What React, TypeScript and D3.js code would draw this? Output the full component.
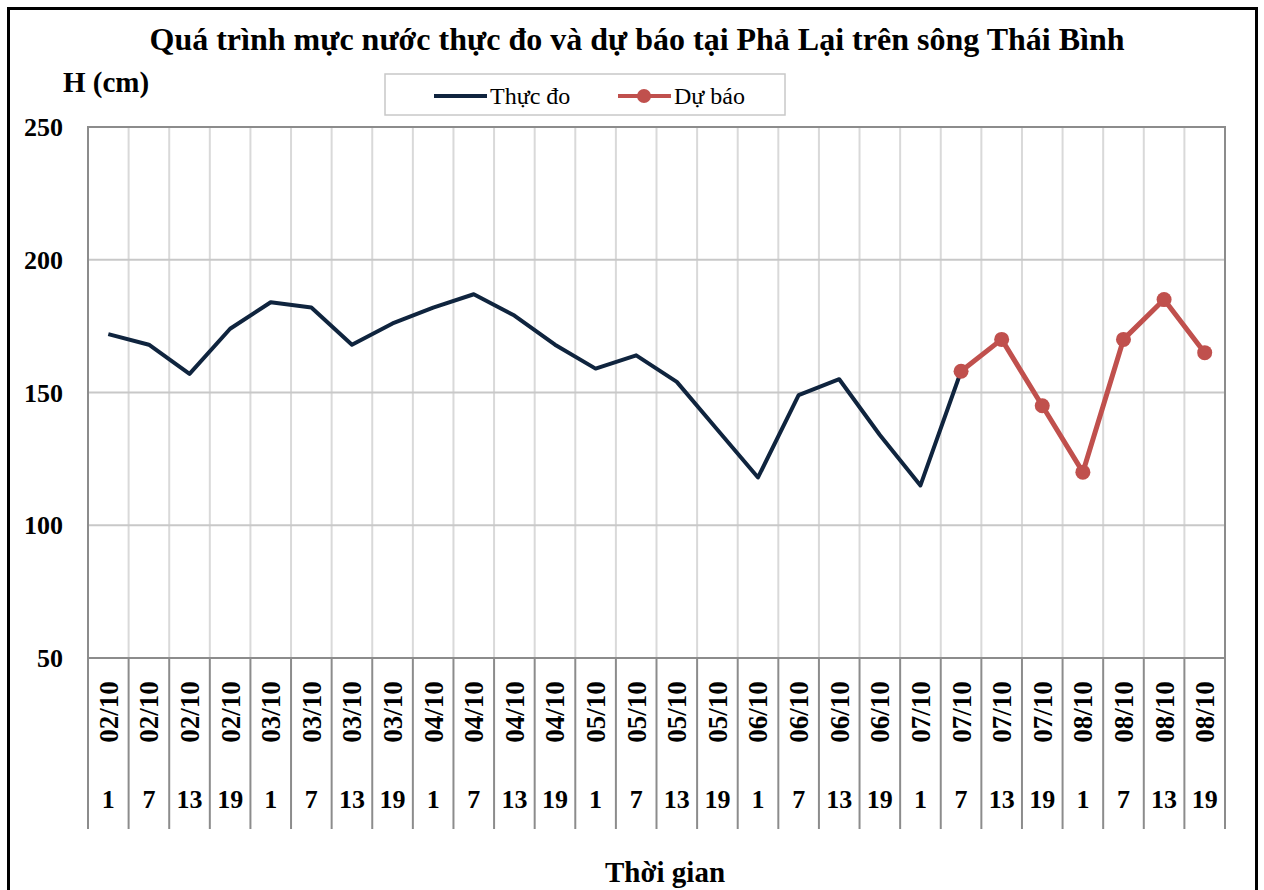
import * as d3 from "d3";

const dates = [
  "02/10", "02/10", "02/10", "02/10",
  "03/10", "03/10", "03/10", "03/10",
  "04/10", "04/10", "04/10", "04/10",
  "05/10", "05/10", "05/10", "05/10",
  "06/10", "06/10", "06/10", "06/10",
  "07/10", "07/10", "07/10", "07/10",
  "08/10", "08/10", "08/10", "08/10",
];
const hours = [
  "1", "7", "13", "19", "1", "7", "13", "19", "1", "7", "13", "19", "1", "7",
  "13", "19", "1", "7", "13", "19", "1", "7", "13", "19", "1", "7", "13", "19",
];
// Thực đo (observed), null where no data
const observed: (number | null)[] = [
  172, 168, 157, 174, 184, 182, 168, 176, 182, 187, 179, 168, 159, 164,
  154, 136, 118, 149, 155, 134, 115, 158, null, null, null, null, null, null,
];
// Dự báo (forecast)
const forecast: (number | null)[] = [
  null, null, null, null, null, null, null, null, null, null, null, null, null, null,
  null, null, null, null, null, null, null, 158, 170, 145, 120, 170, 185, 165,
];
const yTicks = [50, 100, 150, 200, 250];

const W = 1264;
const H = 890;
const left = 88;
const right = 1225;
const top = 127;
const bottom = 658;
const font = "'Liberation Serif', 'Times New Roman', serif";
const navy = "#0f243e";
const red = "#c0504d";

export default function App() {
  const idx = d3.range(dates.length);
  const x = d3.scaleBand<number>().domain(idx).range([left, right]).padding(0);
  const y = d3.scaleLinear().domain([50, 250]).range([bottom, top]);
  const cx = (i: number) => (x(i) ?? 0) + x.bandwidth() / 2;

  const line = d3
    .line<number | null>()
    .defined((d) => d != null)
    .x((_, i) => cx(i))
    .y((d) => y(d as number));

  const bounds = d3.range(dates.length + 1).map((k) => left + k * x.bandwidth());

  return (
    <svg
      width={W}
      height={H}
      style={{ position: "absolute", left: 0, top: 0, background: "#fff" }}
      fontFamily={font}
    >
      <rect x={0} y={0} width={W} height={H} fill="#fff" />
      <rect x={8.5} y={8.5} width={1248} height={900} fill="none" stroke="#000" strokeWidth={3} />

      <text x={637} y={50} textAnchor="middle" fontSize={32} fontWeight="bold">
        Quá trình mực nước thực đo và dự báo tại Phả Lại trên sông Thái Bình
      </text>
      <text x={63} y={92} fontSize={29} fontWeight="bold">
        H (cm)
      </text>

      {/* gridlines */}
      {bounds.slice(1, -1).map((bx, k) => (
        <line key={"v" + k} x1={bx} x2={bx} y1={top} y2={bottom} stroke="#d9d9d9" strokeWidth={2} />
      ))}
      {yTicks.slice(1, -1).map((t) => (
        <line key={"h" + t} x1={left} x2={right} y1={y(t)} y2={y(t)} stroke="#c8c8c8" strokeWidth={2} />
      ))}
      {/* category separators below axis */}
      {bounds.map((bx, k) => (
        <line key={"s" + k} x1={bx} x2={bx} y1={bottom} y2={829} stroke="#8c8c8c" strokeWidth={2} />
      ))}
      <rect x={left} y={top} width={right - left} height={bottom - top} fill="none" stroke="#8c8c8c" strokeWidth={2} />

      {yTicks.map((t) => (
        <text key={"y" + t} x={63} y={y(t)} dy="0.35em" textAnchor="end" fontSize={26} fontWeight="bold">
          {t}
        </text>
      ))}

      {idx.map((i) => (
        <g key={"c" + i}>
          <text
            transform={`translate(${cx(i)},712) rotate(-90)`}
            textAnchor="middle"
            dy="0.35em"
            fontSize={27}
            fontWeight="bold"
          >
            {dates[i]}
          </text>
          <text x={cx(i)} y={808} textAnchor="middle" fontSize={26} fontWeight="bold">
            {hours[i]}
          </text>
        </g>
      ))}

      <path d={line(observed) ?? ""} fill="none" stroke={navy} strokeWidth={4} strokeLinejoin="round" />
      <path d={line(forecast) ?? ""} fill="none" stroke={red} strokeWidth={5} strokeLinejoin="round" />
      {forecast.map((d, i) =>
        d == null ? null : <circle key={"m" + i} cx={cx(i)} cy={y(d)} r={7.5} fill={red} />
      )}

      {/* legend */}
      <rect x={385} y={74} width={400} height={41} fill="#fff" stroke="#c8c8c8" strokeWidth={1.5} />
      <line x1={434} x2={487} y1={96} y2={96} stroke={navy} strokeWidth={4} />
      <text x={490} y={96} dy="0.35em" fontSize={24}>
        Thực đo
      </text>
      <line x1={618} x2={671} y1={96} y2={96} stroke={red} strokeWidth={4} />
      <circle cx={644} cy={96} r={7} fill={red} />
      <text x={674} y={96} dy="0.35em" fontSize={24}>
        Dự báo
      </text>

      <text x={665} y={882} textAnchor="middle" fontSize={29} fontWeight="bold">
        Thời gian
      </text>
    </svg>
  );
}
